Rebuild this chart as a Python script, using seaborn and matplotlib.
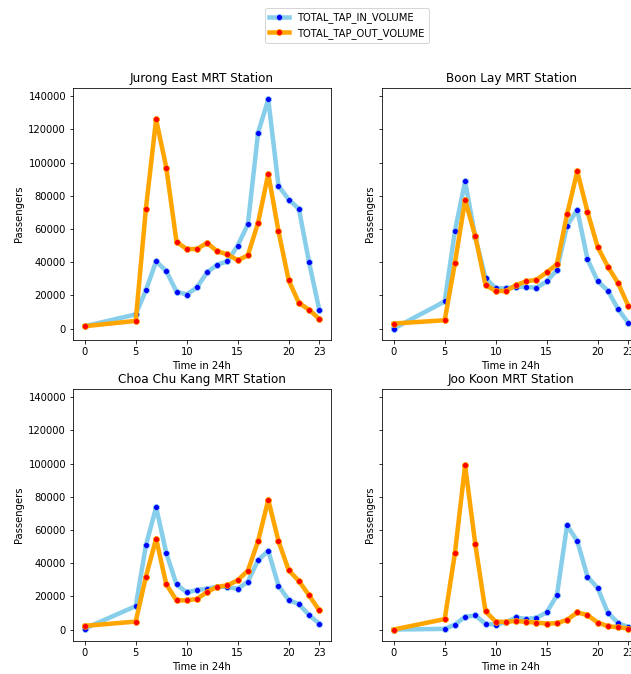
import numpy as np
import pandas as pd
import matplotlib
matplotlib.use("Agg")
import matplotlib.pyplot as plt
import seaborn as sns

hours = [0, 5, 6, 7, 8, 9, 10, 11, 12, 13, 14, 15, 16, 17, 18, 19, 20, 21, 22, 23]
stations = ["Jurong East MRT Station", "Boon Lay MRT Station",
            "Choa Chu Kang MRT Station", "Joo Koon MRT Station"]

jurong_east_in = [1400, 8500, 23000, 40500, 34600, 22200, 20500, 24800, 33800, 38500,
                  40500, 50000, 62800, 118000, 138000, 86000, 77700, 72100, 39900, 11300]
jurong_east_out = [1400, 4600, 72300, 126000, 96900, 52200, 47900, 47900, 51600, 46500,
                   44700, 41100, 44100, 63800, 93200, 58600, 29000, 15500, 11300, 5800]

boon_lay_in = [0, 16300, 58800, 88600, 55000, 30400, 24200, 24200, 25200, 25000,
               24600, 28400, 35200, 62000, 71500, 41700, 28600, 22800, 11700, 3400]
boon_lay_out = [3000, 5000, 39500, 77500, 55600, 26200, 22600, 22600, 26200, 28400,
                29400, 33800, 38700, 68900, 94700, 70300, 49100, 37300, 27400, 13700]

choa_chu_kang_in = [600, 14100, 50700, 73700, 46000, 27200, 22400, 23800, 24600, 25800,
                    25800, 24400, 28900, 41800, 47400, 26400, 17800, 15300, 8700, 3600]
choa_chu_kang_out = [2200, 4800, 31900, 54700, 27200, 17600, 17600, 18400, 22600, 25800,
                     26600, 29700, 35500, 53300, 78100, 53300, 35700, 29300, 20600, 11500]

joo_koon_in = [0, 400, 3000, 7700, 8500, 3400, 3000, 4400, 7300, 6300,
               7100, 10300, 20600, 62800, 53300, 31900, 25000, 10100, 4000, 1400]
joo_koon_out = [0, 6300, 46000, 98900, 51300, 10900, 4800, 4600, 5200, 4600,
                4200, 3600, 3800, 5900, 10300, 8700, 4200, 2000, 1400, 600]

tap_in = [jurong_east_in, boon_lay_in, choa_chu_kang_in, joo_koon_in]
tap_out = [jurong_east_out, boon_lay_out, choa_chu_kang_out, joo_koon_out]

xticks = [0, 5, 10, 15, 20, 23]
yticks = [0, 20000, 40000, 60000, 80000, 100000, 120000, 140000]

fig, axes = plt.subplots(2, 2, sharey=True, figsize=(631 / 72, 674 / 72), dpi=72)

W, H = 631, 674
# axes boxes in pixels: (left, top, right, bottom)
boxes = [(73, 88, 331, 340), (382, 88, 640, 340),
         (73, 389, 331, 641), (382, 389, 640, 641)]

for ax, box, name, vin, vout in zip(axes.flat, boxes, stations, tap_in, tap_out):
    l, t, r, b = box
    ax.set_position([l / W, 1 - b / H, (r - l) / W, (b - t) / H])
    df = pd.DataFrame({"hour": hours, "in": vin, "out": vout})
    sns.lineplot(data=df, x="hour", y="in", ax=ax, color="skyblue", linewidth=4.5,
                 marker="o", markersize=6, markerfacecolor="blue",
                 markeredgecolor="skyblue", label="TOTAL_TAP_IN_VOLUME")
    sns.lineplot(data=df, x="hour", y="out", ax=ax, color="orange", linewidth=4.5,
                 marker="o", markersize=6, markerfacecolor="red",
                 markeredgecolor="orange", label="TOTAL_TAP_OUT_VOLUME")
    ax.set_title(name, fontsize=12)
    ax.set_xlabel("Time in 24h")
    ax.set_ylabel("Passengers")
    ax.set_xticks(xticks)
    ax.set_yticks(yticks)
    ax.yaxis.label.set_visible(True)
    ax.get_legend().remove()

handles, labels = axes[0, 0].get_legend_handles_labels()
fig.legend(handles, labels, loc="upper center", bbox_to_anchor=(347 / W, 1 - 3 / H),
           ncol=1)

fig.savefig("out.png", dpi=72)
